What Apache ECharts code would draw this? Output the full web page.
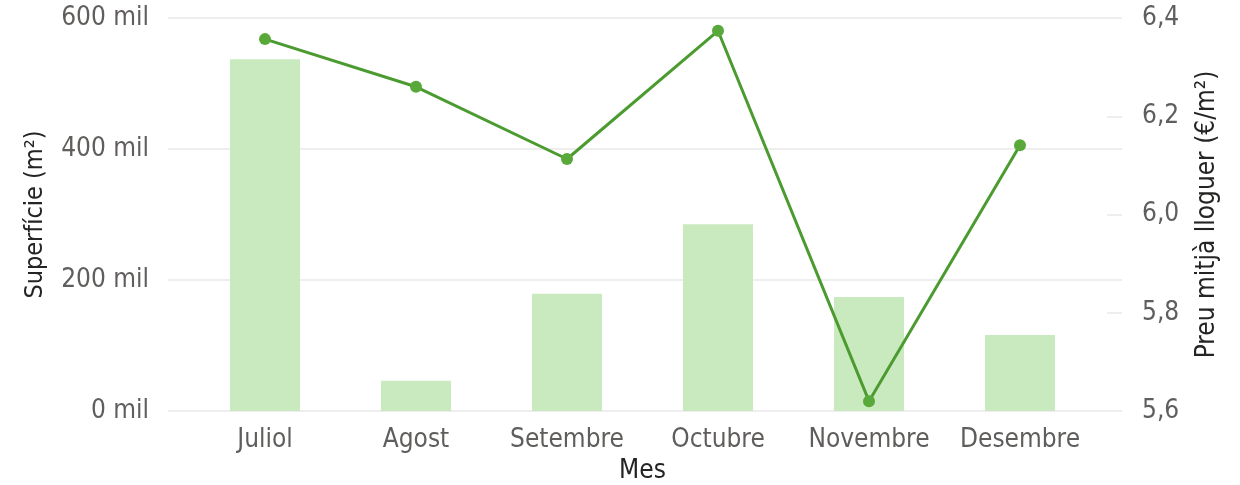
<!DOCTYPE html>
<html>
<head>
<meta charset="utf-8">
<script src="https://cdn.jsdelivr.net/npm/echarts@6/dist/echarts.min.js"></script>
<style>
  html, body { margin: 0; padding: 0; background: #fff; }
  #chart { width: 1240px; height: 485px; }
</style>
</head>
<body>
<div id="chart"></div>
<script>
var months = ['Juliol', 'Agost', 'Setembre', 'Octubre', 'Novembre', 'Desembre'];
var superficie = [537000, 46000, 179000, 285000, 174000, 116000];
var preu = [6.357, 6.26, 6.113, 6.374, 5.62, 6.141];

var font = 'DejaVu Sans Condensed';
var labelColor = '#605e5c';
var titleColor = '#252423';
var gridColor = '#eeeeee';

var chart = echarts.init(document.getElementById('chart'));
var option = {
    backgroundColor: '#ffffff',
    animation: false,
    textStyle: {fontFamily: font},
    grid: [
        {left: 168, right: 118, top: 18, bottom: 74, containLabel: false, outerBoundsMode: 'none'},
        {left: 189.5, right: 144.5, top: 18, bottom: 74, containLabel: false, outerBoundsMode: 'none'}
    ],
    xAxis: [
        {gridIndex: 0, type: 'value', show: false, min: 0, max: 1},
        {
            gridIndex: 1,
            type: 'category',
            data: months,
            axisLine: {show: false},
            axisTick: {show: false},
            axisLabel: {color: labelColor, fontSize: 26, fontFamily: font, margin: 16, interval: 0},
            name: 'Mes',
            nameLocation: 'middle',
            nameGap: 46,
            nameTextStyle: {color: titleColor, fontSize: 26, fontFamily: font}
        }
    ],
    yAxis: [
        {
            gridIndex: 0,
            type: 'value',
            position: 'left',
            min: 0, max: 600000, interval: 200000,
            axisLine: {show: false},
            axisTick: {show: false},
            axisLabel: {
                color: labelColor, fontSize: 26, fontFamily: font, margin: 19,
                formatter: function (v) { return (v / 1000) + ' mil'; }
            },
            splitLine: {lineStyle: {color: gridColor, width: 2}},
            name: 'Superfície (m²)',
            nameLocation: 'middle',
            nameGap: 120,
            nameTextStyle: {color: titleColor, fontSize: 25, fontFamily: font}
        },
        {
            gridIndex: 0,
            type: 'value',
            position: 'right',
            min: 5.6, max: 6.4, interval: 0.2,
            axisLine: {show: false},
            axisTick: {show: true, inside: true, length: 15, lineStyle: {color: gridColor, width: 2}},
            axisLabel: {
                color: labelColor, fontSize: 26, fontFamily: font, margin: 20,
                formatter: function (v) { return v.toFixed(1).replace('.', ','); }
            },
            splitLine: {show: false},
            name: 'Preu mitjà lloguer (€/m²)',
            nameLocation: 'middle',
            nameGap: 72,
            nameRotate: 90,
            nameTextStyle: {color: titleColor, fontSize: 26, fontFamily: font}
        },
        {gridIndex: 1, type: 'value', show: false, min: 0, max: 600000, splitLine: {show: false}},
        {gridIndex: 1, type: 'value', show: false, min: 5.6, max: 6.4, splitLine: {show: false}}
    ],
    series: [
        {
            name: 'Superfície',
            type: 'bar',
            xAxisIndex: 1,
            yAxisIndex: 2,
            data: superficie,
            barWidth: 70,
            itemStyle: {color: '#c9eabf'}
        },
        {
            name: 'Preu',
            type: 'line',
            xAxisIndex: 1,
            yAxisIndex: 3,
            data: preu,
            symbol: 'circle',
            symbolSize: 12,
            lineStyle: {color: '#4b9b30', width: 3},
            itemStyle: {color: '#58a83a'}
        }
    ]
};
chart.setOption(option);
</script>
</body>
</html>
